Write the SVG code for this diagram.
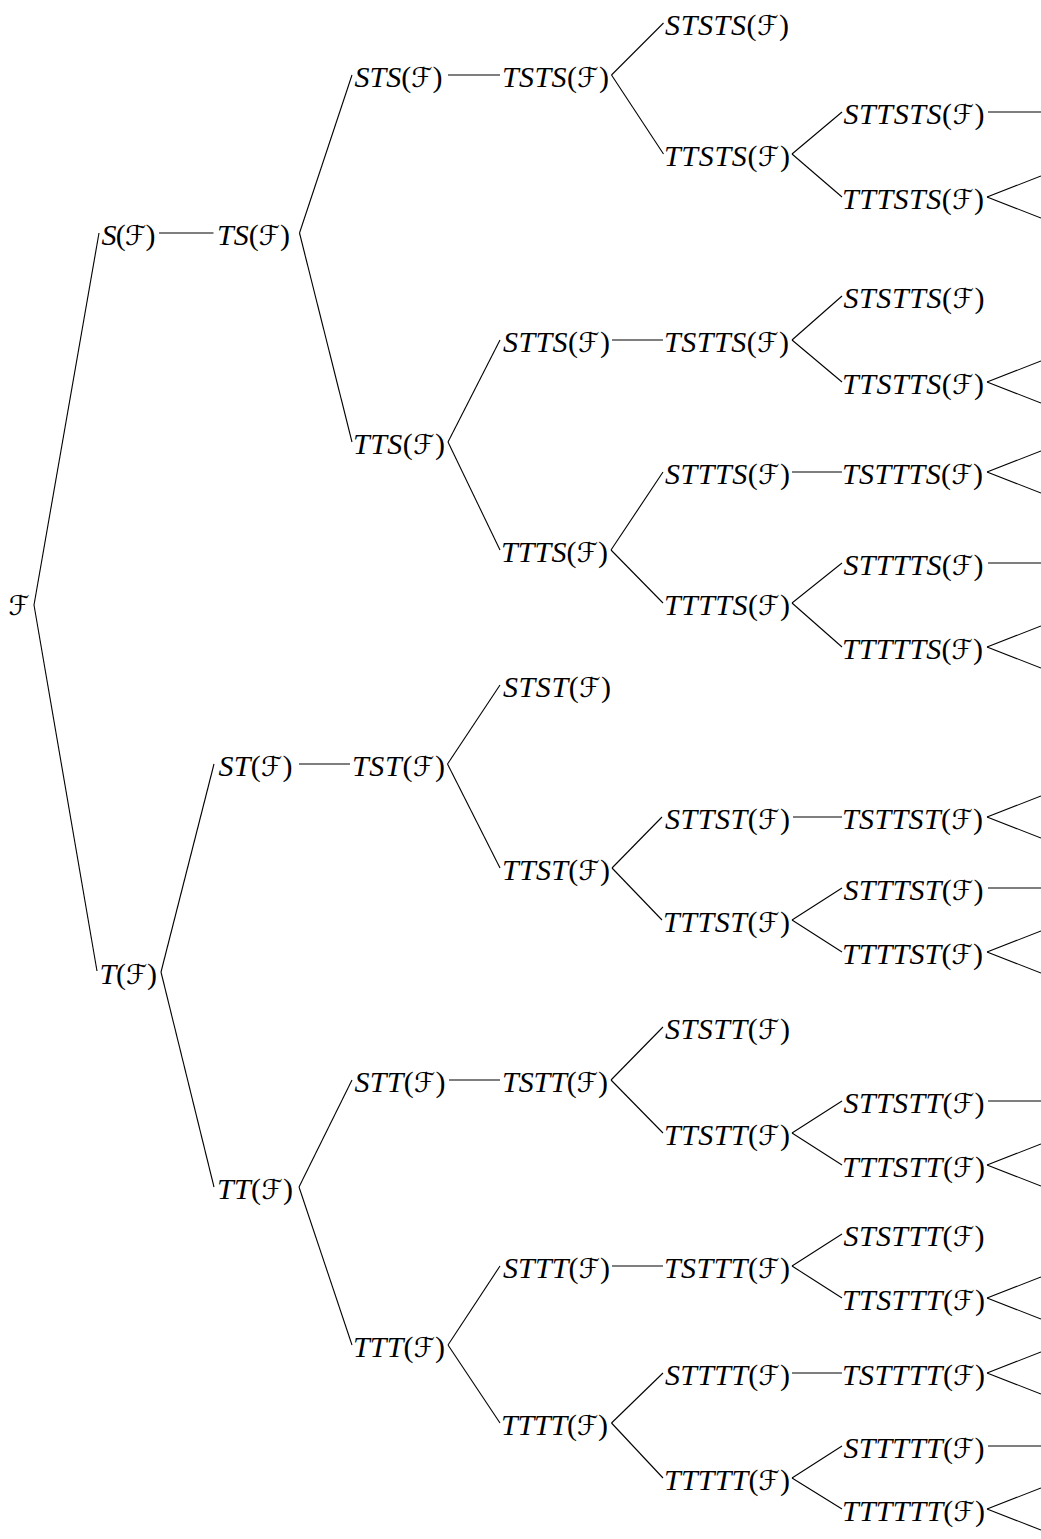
<svg xmlns="http://www.w3.org/2000/svg" width="1041" height="1539" viewBox="0 0 1041 1539">
<style>
text{font-family:"Liberation Serif","Times New Roman",serif;font-size:30px;fill:#000}
.i{font-style:italic}
.f{font-family:"DejaVu Serif","DejaVu Sans",serif;font-style:normal;font-size:27px}
#edges line{stroke:#000;stroke-width:1.1}
</style>
<rect width="1041" height="1539" fill="#fff"/>
<g id="edges">
<line x1="34" y1="605" x2="99" y2="233"/>
<line x1="34" y1="605" x2="97" y2="971"/>
<line x1="159" y1="233" x2="213.5" y2="233"/>
<line x1="299.5" y1="233" x2="352" y2="75"/>
<line x1="299.5" y1="233" x2="352" y2="442"/>
<line x1="448" y1="75" x2="500" y2="75"/>
<line x1="611.5" y1="75" x2="663.5" y2="23"/>
<line x1="611.5" y1="75" x2="663.5" y2="154"/>
<line x1="792" y1="154" x2="842" y2="112"/>
<line x1="792" y1="154" x2="842" y2="197"/>
<line x1="988" y1="112" x2="1041" y2="112"/>
<line x1="987" y1="197" x2="1041" y2="176"/>
<line x1="987" y1="197" x2="1041" y2="218"/>
<line x1="448" y1="442" x2="500" y2="340"/>
<line x1="448" y1="442" x2="500" y2="550"/>
<line x1="612" y1="340" x2="663" y2="340"/>
<line x1="792" y1="340" x2="842" y2="296"/>
<line x1="792" y1="340" x2="842" y2="382"/>
<line x1="987" y1="382" x2="1041" y2="361"/>
<line x1="987" y1="382" x2="1041" y2="403"/>
<line x1="611" y1="550" x2="663" y2="472"/>
<line x1="611" y1="550" x2="663" y2="603"/>
<line x1="792" y1="472" x2="842" y2="472"/>
<line x1="987" y1="472" x2="1041" y2="451"/>
<line x1="987" y1="472" x2="1041" y2="493"/>
<line x1="792" y1="603" x2="842" y2="563"/>
<line x1="792" y1="603" x2="842" y2="647"/>
<line x1="988" y1="563" x2="1041" y2="563"/>
<line x1="987" y1="647" x2="1041" y2="626"/>
<line x1="987" y1="647" x2="1041" y2="668"/>
<line x1="161" y1="972" x2="214" y2="764"/>
<line x1="161" y1="972" x2="214" y2="1187"/>
<line x1="299" y1="764" x2="350" y2="764"/>
<line x1="447.5" y1="764" x2="500" y2="685"/>
<line x1="447.5" y1="764" x2="500" y2="868"/>
<line x1="612" y1="868" x2="662" y2="817"/>
<line x1="612" y1="868" x2="662" y2="920"/>
<line x1="793" y1="817" x2="842" y2="817"/>
<line x1="987" y1="817" x2="1041" y2="796"/>
<line x1="987" y1="817" x2="1041" y2="838"/>
<line x1="792" y1="920" x2="842" y2="888"/>
<line x1="792" y1="920" x2="842" y2="952"/>
<line x1="988" y1="888" x2="1041" y2="888"/>
<line x1="987" y1="952" x2="1041" y2="931"/>
<line x1="987" y1="952" x2="1041" y2="973"/>
<line x1="299" y1="1187" x2="352" y2="1080"/>
<line x1="299" y1="1187" x2="352" y2="1345"/>
<line x1="449" y1="1080" x2="500" y2="1080"/>
<line x1="611" y1="1080" x2="663" y2="1027"/>
<line x1="611" y1="1080" x2="663" y2="1133"/>
<line x1="792" y1="1133" x2="842" y2="1101"/>
<line x1="792" y1="1133" x2="842" y2="1165"/>
<line x1="988" y1="1101" x2="1041" y2="1101"/>
<line x1="987" y1="1165" x2="1041" y2="1144"/>
<line x1="987" y1="1165" x2="1041" y2="1186"/>
<line x1="448" y1="1345" x2="500" y2="1266"/>
<line x1="448" y1="1345" x2="500" y2="1423"/>
<line x1="612" y1="1266" x2="663" y2="1266"/>
<line x1="792" y1="1266" x2="842" y2="1234"/>
<line x1="792" y1="1266" x2="842" y2="1298"/>
<line x1="987" y1="1298" x2="1041" y2="1277"/>
<line x1="987" y1="1298" x2="1041" y2="1319"/>
<line x1="611.5" y1="1423" x2="663" y2="1373"/>
<line x1="611.5" y1="1423" x2="663" y2="1478"/>
<line x1="792" y1="1373" x2="842" y2="1373"/>
<line x1="987" y1="1373" x2="1041" y2="1352"/>
<line x1="987" y1="1373" x2="1041" y2="1394"/>
<line x1="792" y1="1478" x2="842" y2="1446"/>
<line x1="792" y1="1478" x2="842" y2="1509"/>
<line x1="988" y1="1446" x2="1041" y2="1446"/>
<line x1="987" y1="1509" x2="1041" y2="1488"/>
<line x1="987" y1="1509" x2="1041" y2="1530"/>
</g>
<g id="n0"><text x="8.5" y="615" textLength="21" lengthAdjust="spacingAndGlyphs"><tspan class="f">ℱ</tspan></text></g>
<g id="n1"><text x="101.5" y="244.5" textLength="54"><tspan class="i">S</tspan>(<tspan class="f">ℱ</tspan>)</text></g>
<g id="n2"><text x="217" y="244.5" textLength="73"><tspan class="i">TS</tspan>(<tspan class="f">ℱ</tspan>)</text></g>
<g id="n3"><text x="354.5" y="86.5" textLength="88"><tspan class="i">STS</tspan>(<tspan class="f">ℱ</tspan>)</text></g>
<g id="n4"><text x="502" y="86.5" textLength="107"><tspan class="i">TSTS</tspan>(<tspan class="f">ℱ</tspan>)</text></g>
<g id="n5"><text x="665" y="34.5" textLength="124"><tspan class="i">STSTS</tspan>(<tspan class="f">ℱ</tspan>)</text></g>
<g id="n6"><text x="664" y="165.5" textLength="126"><tspan class="i">TTSTS</tspan>(<tspan class="f">ℱ</tspan>)</text></g>
<g id="n7"><text x="843.5" y="123.5" textLength="141"><tspan class="i">STTSTS</tspan>(<tspan class="f">ℱ</tspan>)</text></g>
<g id="n8"><text x="842" y="208.5" textLength="142"><tspan class="i">TTTSTS</tspan>(<tspan class="f">ℱ</tspan>)</text></g>
<g id="n9"><text x="353" y="453.5" textLength="92"><tspan class="i">TTS</tspan>(<tspan class="f">ℱ</tspan>)</text></g>
<g id="n10"><text x="503" y="351.5" textLength="107"><tspan class="i">STTS</tspan>(<tspan class="f">ℱ</tspan>)</text></g>
<g id="n11"><text x="664" y="351.5" textLength="125"><tspan class="i">TSTTS</tspan>(<tspan class="f">ℱ</tspan>)</text></g>
<g id="n12"><text x="843.5" y="307.5" textLength="141"><tspan class="i">STSTTS</tspan>(<tspan class="f">ℱ</tspan>)</text></g>
<g id="n13"><text x="842" y="393.5" textLength="142"><tspan class="i">TTSTTS</tspan>(<tspan class="f">ℱ</tspan>)</text></g>
<g id="n14"><text x="501" y="561.5" textLength="107"><tspan class="i">TTTS</tspan>(<tspan class="f">ℱ</tspan>)</text></g>
<g id="n15"><text x="665" y="483.5" textLength="125"><tspan class="i">STTTS</tspan>(<tspan class="f">ℱ</tspan>)</text></g>
<g id="n16"><text x="842" y="483.5" textLength="141"><tspan class="i">TSTTTS</tspan>(<tspan class="f">ℱ</tspan>)</text></g>
<g id="n17"><text x="664" y="614.5" textLength="126"><tspan class="i">TTTTS</tspan>(<tspan class="f">ℱ</tspan>)</text></g>
<g id="n18"><text x="843.5" y="574.5" textLength="140"><tspan class="i">STTTTS</tspan>(<tspan class="f">ℱ</tspan>)</text></g>
<g id="n19"><text x="842" y="658.5" textLength="141"><tspan class="i">TTTTTS</tspan>(<tspan class="f">ℱ</tspan>)</text></g>
<g id="n20"><text x="99.5" y="983.5" textLength="57.5"><tspan class="i">T</tspan>(<tspan class="f">ℱ</tspan>)</text></g>
<g id="n21"><text x="218.5" y="775.5" textLength="74"><tspan class="i">ST</tspan>(<tspan class="f">ℱ</tspan>)</text></g>
<g id="n22"><text x="352" y="775.5" textLength="93"><tspan class="i">TST</tspan>(<tspan class="f">ℱ</tspan>)</text></g>
<g id="n23"><text x="503" y="696.5" textLength="108"><tspan class="i">STST</tspan>(<tspan class="f">ℱ</tspan>)</text></g>
<g id="n24"><text x="502" y="879.5" textLength="108"><tspan class="i">TTST</tspan>(<tspan class="f">ℱ</tspan>)</text></g>
<g id="n25"><text x="665" y="828.5" textLength="125"><tspan class="i">STTST</tspan>(<tspan class="f">ℱ</tspan>)</text></g>
<g id="n26"><text x="842" y="828.5" textLength="141"><tspan class="i">TSTTST</tspan>(<tspan class="f">ℱ</tspan>)</text></g>
<g id="n27"><text x="663" y="931.5" textLength="127"><tspan class="i">TTTST</tspan>(<tspan class="f">ℱ</tspan>)</text></g>
<g id="n28"><text x="843.5" y="899.5" textLength="140"><tspan class="i">STTTST</tspan>(<tspan class="f">ℱ</tspan>)</text></g>
<g id="n29"><text x="842" y="963.5" textLength="141"><tspan class="i">TTTTST</tspan>(<tspan class="f">ℱ</tspan>)</text></g>
<g id="n30"><text x="217" y="1198.5" textLength="76"><tspan class="i">TT</tspan>(<tspan class="f">ℱ</tspan>)</text></g>
<g id="n31"><text x="354.5" y="1091.5" textLength="91"><tspan class="i">STT</tspan>(<tspan class="f">ℱ</tspan>)</text></g>
<g id="n32"><text x="502" y="1091.5" textLength="106"><tspan class="i">TSTT</tspan>(<tspan class="f">ℱ</tspan>)</text></g>
<g id="n33"><text x="665" y="1038.5" textLength="125"><tspan class="i">STSTT</tspan>(<tspan class="f">ℱ</tspan>)</text></g>
<g id="n34"><text x="664" y="1144.5" textLength="126"><tspan class="i">TTSTT</tspan>(<tspan class="f">ℱ</tspan>)</text></g>
<g id="n35"><text x="843.5" y="1112.5" textLength="141"><tspan class="i">STTSTT</tspan>(<tspan class="f">ℱ</tspan>)</text></g>
<g id="n36"><text x="842" y="1176.5" textLength="143"><tspan class="i">TTTSTT</tspan>(<tspan class="f">ℱ</tspan>)</text></g>
<g id="n37"><text x="353" y="1356.5" textLength="92"><tspan class="i">TTT</tspan>(<tspan class="f">ℱ</tspan>)</text></g>
<g id="n38"><text x="503" y="1277.5" textLength="107"><tspan class="i">STTT</tspan>(<tspan class="f">ℱ</tspan>)</text></g>
<g id="n39"><text x="664" y="1277.5" textLength="126"><tspan class="i">TSTTT</tspan>(<tspan class="f">ℱ</tspan>)</text></g>
<g id="n40"><text x="843.5" y="1245.5" textLength="141"><tspan class="i">STSTTT</tspan>(<tspan class="f">ℱ</tspan>)</text></g>
<g id="n41"><text x="842" y="1309.5" textLength="143"><tspan class="i">TTSTTT</tspan>(<tspan class="f">ℱ</tspan>)</text></g>
<g id="n42"><text x="501" y="1434.5" textLength="107"><tspan class="i">TTTT</tspan>(<tspan class="f">ℱ</tspan>)</text></g>
<g id="n43"><text x="665" y="1384.5" textLength="125"><tspan class="i">STTTT</tspan>(<tspan class="f">ℱ</tspan>)</text></g>
<g id="n44"><text x="842" y="1384.5" textLength="143"><tspan class="i">TSTTTT</tspan>(<tspan class="f">ℱ</tspan>)</text></g>
<g id="n45"><text x="664" y="1489.5" textLength="126"><tspan class="i">TTTTT</tspan>(<tspan class="f">ℱ</tspan>)</text></g>
<g id="n46"><text x="843.5" y="1457.5" textLength="141"><tspan class="i">STTTTT</tspan>(<tspan class="f">ℱ</tspan>)</text></g>
<g id="n47"><text x="842" y="1520.5" textLength="143"><tspan class="i">TTTTTT</tspan>(<tspan class="f">ℱ</tspan>)</text></g>
</svg>
